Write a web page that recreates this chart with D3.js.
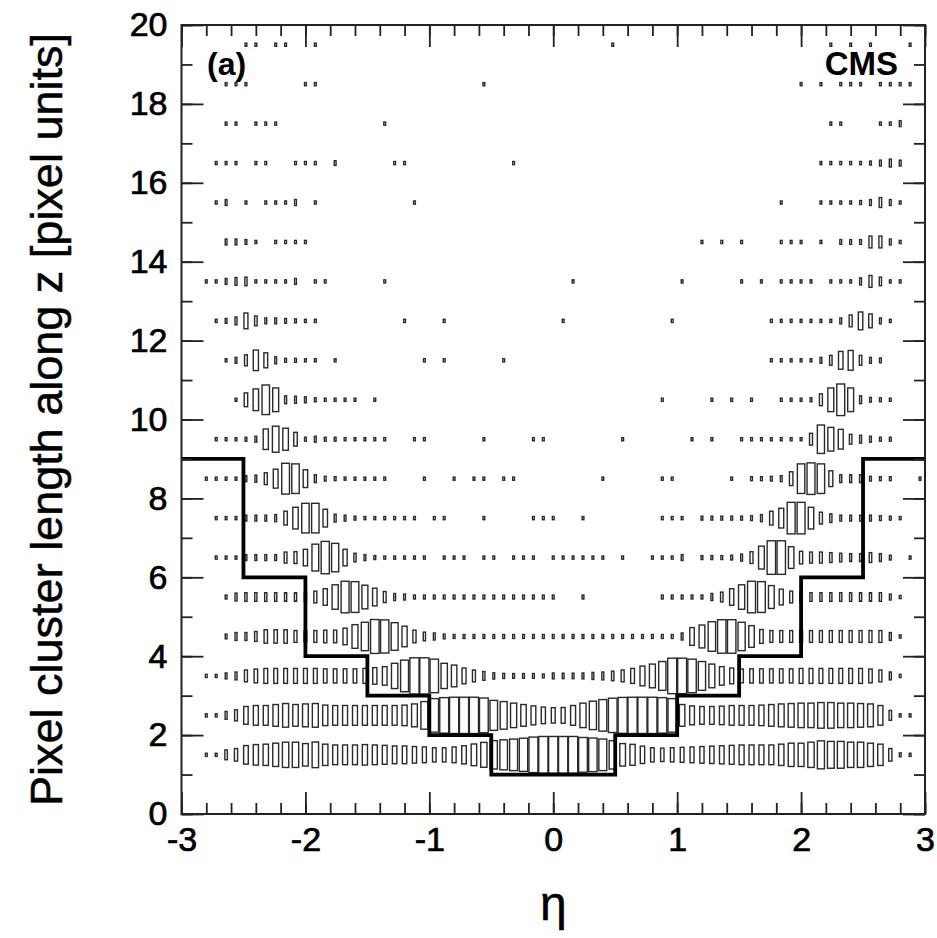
<!DOCTYPE html>
<html>
<head>
<meta charset="utf-8">
<script src="https://cdn.jsdelivr.net/npm/d3@7"></script>
<style>
  body { margin: 0; background: #fff; }
  text { font-family: "Liberation Sans", Arial, Helvetica, sans-serif; }
</style>
</head>
<body>
<svg id="chart" width="937" height="938"></svg>
<script>
"use strict"

// eta binning of the 2D histogram
let etaMin = -3
let etaMax = 3
let etaBins = 75

// box size per eta bin (percent of the cell), one array per cluster length row
let len1 = [
  0,0,8,8,25,32,47,52,54,59,64,64,57,65,54,
  50,50,50,52,50,48,45,45,42,40,36,36,40,46,55,
  63,72,76,80,84,90,93,93,93,93,88,85,80,72,57,
  53,44,36,34,36,38,40,42,44,46,48,50,50,50,50,
  54,59,59,64,71,68,68,64,64,59,54,32,10,8,0]
let len2 = [
  0,0,8,8,20,28,45,50,50,55,60,55,58,60,52,
  50,50,50,50,50,50,50,52,58,70,85,90,92,92,92,
  88,76,70,62,55,48,42,39,40,50,62,72,80,87,91,
  92,92,92,90,85,55,48,45,45,47,50,50,50,52,55,
  58,60,62,62,65,65,62,62,60,58,50,25,8,8,0]
let len3 = [
  0,0,8,8,15,20,30,35,38,38,38,38,38,38,36,
  36,36,36,38,42,47,64,80,92,92,85,64,55,40,30,
  22,16,13,12,12,12,10,15,14,14,15,18,20,24,30,
  38,50,60,73,90,90,85,73,60,47,40,35,36,36,36,
  36,36,38,38,38,38,38,38,38,35,30,20,8,0,0]
let len4 = [
  0,0,0,0,12,20,20,25,34,34,34,30,28,30,32,
  32,42,60,72,86,84,70,52,32,22,18,12,10,10,10,
  10,10,10,10,10,10,10,10,10,10,10,10,10,10,10,
  10,10,10,10,10,18,45,58,75,85,85,72,55,35,30,
  30,30,30,30,30,30,30,30,30,30,30,20,8,0,0]
let len5 = [
  0,0,0,0,10,20,22,22,22,22,22,22,22,30,42,
  62,80,78,60,45,28,18,15,10,10,10,10,10,10,10,
  10,10,10,10,10,10,10,10,0,0,10,0,0,0,0,
  0,0,0,10,10,10,10,10,18,25,42,62,80,78,58,
  40,30,25,22,22,22,22,22,22,22,22,15,8,0,0]
let len6 = [
  0,0,0,8,8,8,15,15,15,15,28,30,42,68,82,
  72,42,22,15,10,8,8,8,8,8,0,8,8,8,0,
  8,8,0,8,8,8,0,8,8,8,8,8,8,0,8,
  0,0,8,8,8,15,0,10,10,10,12,18,30,58,85,
  85,55,32,28,28,25,22,20,20,25,20,12,0,8,0]
let len7 = [
  0,0,0,8,8,8,15,15,15,18,35,55,75,75,45,
  20,15,10,8,8,8,8,8,8,0,8,8,0,0,0,
  8,0,0,0,0,8,8,8,0,0,8,0,0,0,0,
  0,0,0,8,8,8,0,10,10,10,10,10,12,18,35,
  50,80,80,55,30,22,15,15,15,15,12,10,8,0,0]
let len8 = [
  0,0,8,8,8,8,15,18,30,48,78,75,45,20,12,
  10,8,8,8,8,8,0,0,0,8,0,0,8,0,8,
  8,0,8,8,0,0,0,0,0,0,0,0,8,0,0,
  0,0,0,8,8,0,0,0,0,0,8,0,10,10,12,
  15,35,75,80,75,40,20,20,20,12,10,10,0,0,8]
let len9 = [
  0,0,0,8,8,8,10,15,52,66,56,35,10,15,10,
  10,8,8,8,8,8,0,0,8,8,0,0,0,0,0,
  8,0,0,0,0,8,8,0,0,0,0,0,0,0,8,
  0,0,0,0,0,0,8,0,8,0,0,8,8,8,8,
  8,8,8,30,72,60,50,25,20,15,10,10,0,0,0]
let len10 = [
  0,0,0,0,0,8,35,55,75,60,20,18,15,10,8,
  8,8,8,0,8,0,0,0,0,0,0,0,0,0,0,
  0,0,0,0,0,0,0,0,0,0,0,0,0,0,0,
  0,0,0,8,0,0,0,0,8,0,8,0,8,0,0,
  8,8,8,10,30,60,80,60,20,12,10,8,0,0,0]
let len11 = [
  0,0,0,0,8,15,28,52,38,18,10,10,8,8,0,
  8,0,0,0,0,0,0,0,0,8,0,8,0,0,0,
  0,0,8,0,0,0,0,0,0,0,0,0,0,0,0,
  0,0,0,0,0,0,0,0,0,0,0,0,0,0,8,
  8,8,8,8,15,25,45,50,25,15,12,0,0,0,0]
let len12 = [
  0,0,0,8,12,20,40,25,15,15,12,10,8,8,0,
  0,0,0,0,0,0,0,8,0,0,0,8,0,0,0,
  0,0,0,0,0,0,0,0,8,0,0,0,0,0,0,
  0,0,0,0,8,0,0,0,0,0,0,0,0,0,8,
  8,8,8,8,8,8,15,30,45,35,15,8,0,0,0]
let len13 = [
  0,0,8,8,15,20,22,8,8,8,8,15,0,8,8,
  0,0,0,0,0,8,0,0,0,0,0,0,0,0,0,
  0,0,0,0,0,0,0,0,0,8,0,0,0,0,0,
  0,0,0,0,0,8,0,0,0,0,0,8,0,8,0,
  8,8,8,8,0,8,8,8,18,30,22,8,8,0,0]
let len14 = [
  0,0,0,0,15,15,12,8,0,8,8,8,8,0,0,
  0,0,0,0,0,0,0,0,0,0,0,0,0,0,0,
  0,0,0,0,0,0,0,0,0,0,0,0,0,0,0,
  0,0,0,0,0,0,0,8,0,8,0,8,0,0,0,
  8,8,8,0,8,0,12,12,12,30,30,15,8,0,0]
let len15 = [
  0,0,0,8,15,0,8,0,8,8,8,15,0,8,0,
  0,0,0,0,0,0,0,0,8,0,0,0,0,0,0,
  0,0,0,0,0,0,0,0,0,0,0,0,0,0,0,
  0,0,0,0,0,0,0,0,0,0,0,0,0,0,0,
  8,0,0,0,8,8,8,8,10,15,25,15,8,0,0]
let len16 = [
  0,0,0,8,8,8,0,8,8,0,0,8,8,8,0,
  12,0,0,0,0,0,8,8,0,0,0,0,0,0,0,
  0,0,0,8,0,0,0,0,0,0,0,0,0,0,0,
  0,0,0,0,0,0,0,0,0,0,0,0,0,0,0,
  0,0,0,0,8,8,8,8,8,10,15,20,15,0,0]
let len17 = [
  0,0,0,0,8,8,0,8,8,8,0,0,0,0,0,
  0,0,0,0,0,8,0,0,0,0,0,0,0,0,0,
  0,0,0,0,0,0,0,0,0,0,0,0,0,0,0,
  0,0,0,0,0,0,0,0,0,0,0,0,0,0,0,
  0,0,0,0,0,8,8,0,0,0,8,8,15,0,0]
let len18 = [
  0,0,0,0,8,8,8,0,0,0,0,0,8,8,0,
  0,0,0,0,0,0,0,0,0,0,0,0,0,0,0,
  8,0,0,0,0,0,0,0,0,0,0,0,0,0,0,
  0,0,0,0,0,0,0,0,0,0,0,0,0,0,0,
  0,0,8,0,8,0,8,8,8,0,8,8,8,8,0]
let len19 = [
  0,0,0,0,0,0,8,8,0,8,8,0,0,8,0,
  0,0,0,0,0,0,0,0,0,0,0,0,0,0,0,
  0,0,0,0,0,0,0,0,0,0,0,0,0,8,0,
  0,0,0,0,0,0,0,0,0,0,0,0,0,0,0,
  0,0,0,0,0,8,0,8,0,8,0,0,0,8,0]

let rows = [len1, len2, len3, len4, len5, len6, len7, len8, len9, len10,
            len11, len12, len13, len14, len15, len16, len17, len18, len19]
let rowLow = d3.range(1, 20)   // lower edge of each row

// the cut drawn as a thick step line
let cutEta = [-3, -2.5, -2, -1.5, -1, -0.5, 0.5, 1, 1.5, 2, 2.5, 3]
let cutLen = [9, 6, 4, 3, 2, 1, 2, 3, 4, 6, 9, 9]

let xTicks = [-3, -2, -1, 0, 1, 2, 3]
let yTicks = [0, 2, 4, 6, 8, 10, 12, 14, 16, 18, 20]

let plotL = 181.5, plotR = 925, plotT = 25, plotB = 814

let svg = d3.select("#chart")
let x = d3.scaleLinear().domain([etaMin, etaMax]).range([plotL, plotR])
let y = d3.scaleLinear().domain([0, 20]).range([plotB, plotT])

let binW = (etaMax - etaMin) / etaBins
let cellW = x(etaMin + binW) - x(etaMin)
let cellH = y(0) - y(1)

// boxes
let cells = []
rows.forEach(function(row, j) {
    row.forEach(function(v, k) {
        if (v > 0) cells.push({ eta: etaMin + (k + 0.5) * binW, len: rowLow[j] + 0.5, v: v })
    })
})

function boxW(d) { return Math.max(d.v / 100 * cellW, 1.8) }
function boxH(d) { return d.v / 100 * cellH }

svg.append("g").selectAll("rect")
    .data(cells)
    .enter().append("rect")
    .attr("x", function(d) { return x(d.eta) - boxW(d) / 2 })
    .attr("y", function(d) { return y(d.len) - boxH(d) / 2 })
    .attr("width", boxW)
    .attr("height", boxH)
    .attr("fill", "none")
    .attr("stroke", "#2a2a2a")
    .attr("stroke-width", 1.4)

// step line
let cutLine = d3.line()
    .x(function(d, i) { return x(d) })
    .y(function(d, i) { return y(cutLen[i]) })
    .curve(d3.curveStepAfter)

svg.append("path")
    .datum(cutEta)
    .attr("d", cutLine)
    .attr("fill", "none")
    .attr("stroke", "#000")
    .attr("stroke-width", 3.8)

// axes, ticks inside the frame
let minorX = d3.range(-30, 31, 2).map(function(d) { return d / 10 })
let minorY = d3.range(0, 21)

function styleAxis(g) {
    g.select(".domain").remove()
    g.selectAll("line").attr("stroke", "#222").attr("stroke-width", 1.8)
    g.selectAll("text").attr("fill", "#000").style("font-size", "34px")
        .attr("stroke", "#000").attr("stroke-width", 0.7)
}

svg.append("g").attr("transform", "translate(0," + plotB + ")")
    .call(d3.axisBottom(x).tickValues(minorX).tickSize(-11).tickFormat(""))
    .call(styleAxis)
svg.append("g").attr("transform", "translate(0," + plotB + ")")
    .call(d3.axisBottom(x).tickValues(xTicks).tickSize(-22).tickPadding(13)
        .tickFormat(function(d) { return String(d) }))
    .call(styleAxis)
svg.append("g").attr("transform", "translate(0," + plotT + ")")
    .call(d3.axisTop(x).tickValues(minorX).tickSize(-11).tickFormat(""))
    .call(styleAxis)
svg.append("g").attr("transform", "translate(0," + plotT + ")")
    .call(d3.axisTop(x).tickValues(xTicks).tickSize(-22).tickFormat(""))
    .call(styleAxis)

svg.append("g").attr("transform", "translate(" + plotL + ",0)")
    .call(d3.axisLeft(y).tickValues(minorY).tickSize(-11).tickFormat(""))
    .call(styleAxis)
svg.append("g").attr("transform", "translate(" + plotL + ",0)")
    .call(d3.axisLeft(y).tickValues(yTicks).tickSize(-22).tickPadding(14)
        .tickFormat(function(d) { return String(d) }))
    .call(styleAxis)
svg.append("g").attr("transform", "translate(" + plotR + ",0)")
    .call(d3.axisRight(y).tickValues(minorY).tickSize(-11).tickFormat(""))
    .call(styleAxis)
svg.append("g").attr("transform", "translate(" + plotR + ",0)")
    .call(d3.axisRight(y).tickValues(yTicks).tickSize(-22).tickFormat(""))
    .call(styleAxis)

svg.append("rect")
    .attr("x", plotL).attr("y", plotT)
    .attr("width", plotR - plotL).attr("height", plotB - plotT)
    .attr("fill", "none").attr("stroke", "#222").attr("stroke-width", 2)

// labels
svg.append("text")
    .attr("transform", "translate(62," + ((plotT + plotB) / 2) + ") rotate(-90)")
    .attr("text-anchor", "middle")
    .style("font-size", "45px")
    .attr("stroke", "#000").attr("stroke-width", 0.5)
    .text("Pixel cluster length along z [pixel units]")

svg.append("text")
    .attr("x", (plotL + plotR) / 2).attr("y", 920)
    .attr("text-anchor", "middle")
    .style("font-size", "48px")
    .attr("stroke", "#000").attr("stroke-width", 0.5)
    .text("η")

svg.append("text")
    .attr("x", 207).attr("y", 75)
    .style("font-size", "32px").style("font-weight", "bold")
    .text("(a)")

svg.append("text")
    .attr("x", 898).attr("y", 75)
    .attr("text-anchor", "end")
    .style("font-size", "33px").style("font-weight", "bold")
    .text("CMS")
</script>
</body>
</html>
